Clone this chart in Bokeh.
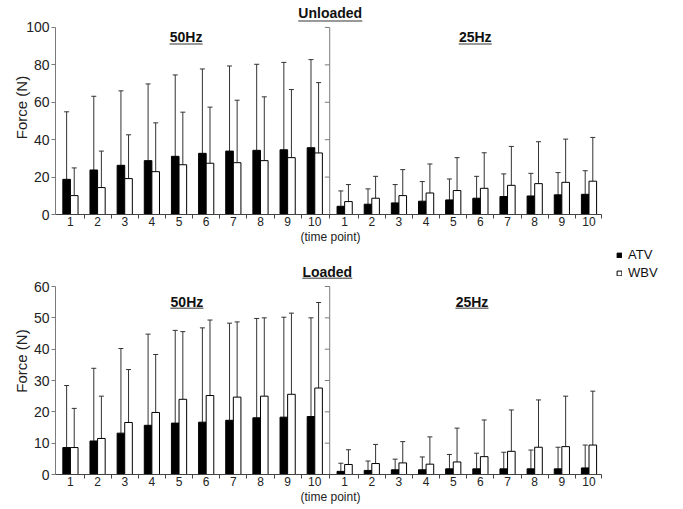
import numpy as np
from bokeh.plotting import figure
from bokeh.models import (ColumnDataSource, Range1d, FixedTicker, CustomJSTickFormatter,
                          Whisker, TeeHead, Legend, LegendItem, Label, Title)
from bokeh.layouts import column
from bokeh.embed import file_html
from bokeh.resources import INLINE

# ---------------- data ----------------
time_points = list(range(1, 11))
groups = ["ATV", "WBV"]

# Unloaded, 50 Hz
unl50_atv = [18.8, 23.8, 26.3, 28.8, 31.1, 32.7, 33.9, 34.3, 34.6, 35.7]
unl50_atv_sd = [36.1, 39.4, 39.8, 41.0, 43.5, 45.1, 45.5, 46.0, 46.7, 47.1]
unl50_wbv = [10.1, 14.4, 19.2, 22.9, 26.6, 27.4, 27.7, 28.8, 30.4, 32.9]
unl50_wbv_sd = [14.8, 19.5, 23.4, 26.1, 28.1, 30.0, 33.4, 34.1, 36.4, 37.6]
# Unloaded, 25 Hz
unl25_atv = [4.4, 5.5, 6.2, 7.1, 7.8, 8.7, 9.6, 9.9, 10.5, 10.8]
unl25_atv_sd = [8.2, 8.2, 9.8, 10.5, 11.2, 11.7, 12.1, 12.1, 11.9, 12.6]
unl25_wbv = [6.9, 8.7, 10.1, 11.5, 12.8, 14.0, 15.6, 16.5, 17.2, 17.8]
unl25_wbv_sd = [9.1, 11.7, 13.9, 15.5, 17.6, 19.0, 20.8, 22.4, 23.1, 23.4]
# Loaded, 50 Hz
load50_atv = [8.6, 10.7, 13.2, 15.7, 16.4, 16.7, 17.3, 18.1, 18.3, 18.5]
load50_atv_sd = [19.8, 23.2, 27.0, 29.1, 29.6, 30.1, 31.0, 31.7, 31.9, 31.5]
load50_wbv = [8.6, 11.5, 16.6, 19.8, 24.0, 25.2, 24.7, 25.0, 25.6, 27.6]
load50_wbv_sd = [12.5, 13.5, 16.9, 18.5, 21.6, 24.1, 24.0, 25.0, 25.9, 27.3]
# Loaded, 25 Hz
load25_atv = [1.0, 1.3, 1.5, 1.5, 1.8, 1.8, 1.8, 1.8, 1.8, 2.1]
load25_atv_sd = [2.6, 3.0, 3.4, 4.1, 4.6, 5.0, 5.3, 6.0, 6.9, 7.3]
load25_wbv = [3.2, 3.5, 3.7, 3.3, 4.0, 5.7, 7.4, 8.7, 8.9, 9.4]
load25_wbv_sd = [4.7, 6.1, 6.8, 8.7, 10.8, 11.7, 13.2, 15.1, 16.1, 17.2]

y_ticks_unloaded = [0, 20, 40, 60, 80, 100]
y_ticks_loaded = [0, 10, 20, 30, 40, 50, 60]

# ---------------- layout constants ----------------
FONT = "Liberation Sans"
AXIS_COL = "#7a7a7a"
XAXIS_COL = "#444444"
ERR_COL = "#333333"
BW = 0.28
GAP = 0.1
X_START, X_END = 0.45, 23.47
DIVIDER = 10.55
AXIS_END = 20.55

left_x = np.array(time_points, dtype=float)
right_x = left_x + 10 + GAP
centers = np.concatenate([left_x, right_x])
boundaries = list(np.arange(1.5, 10, 1.0)) + [DIVIDER] + list(np.arange(11.6, 20, 1.0)) + [AXIS_END]

x_range = Range1d(X_START, X_END)


def panel(height, y_end, y_ticks, atv, atv_sd, wbv, wbv_sd, label_standoff):
    p = figure(width=680, height=height, x_range=x_range, y_range=Range1d(0, y_end),
               output_backend="svg", toolbar_location=None,
               min_border_left=55, min_border_right=0, min_border_top=0,
               min_border_bottom=33)
    p.outline_line_color = None
    p.grid.visible = False
    p.background_fill_color = "white"

    atv_arr = np.array(atv)
    wbv_arr = np.array(wbv)
    src = ColumnDataSource(dict(
        xa=centers - BW / 2, xw=centers + BW / 2,
        atv=atv_arr, wbv=wbv_arr,
        atv_up=atv_arr + np.array(atv_sd), wbv_up=wbv_arr + np.array(wbv_sd),
    ))
    r_atv = p.vbar(x="xa", top="atv", width=BW, source=src,
                   fill_color="black", line_color="black", line_width=1)
    r_wbv = p.vbar(x="xw", top="wbv", width=BW, source=src,
                   fill_color="white", line_color="black", line_width=1)
    for xcol, lo, hi in (("xa", "atv", "atv_up"), ("xw", "wbv", "wbv_up")):
        w = Whisker(base=xcol, lower=lo, upper=hi, source=src, dimension="height",
                    line_color=ERR_COL, line_width=1,
                    lower_head=None,
                    upper_head=TeeHead(size=5, line_color=ERR_COL, line_width=1))
        p.add_layout(w)

    # y axis
    ya = p.yaxis[0]
    ya.ticker = FixedTicker(ticks=y_ticks)
    ya.bounds = (0, y_ticks[-1])
    ya.axis_line_color = AXIS_COL
    ya.major_tick_line_color = AXIS_COL
    ya.major_tick_out = 4
    ya.major_tick_in = 0
    ya.minor_tick_line_color = None
    ya.major_label_standoff = 2
    ya.major_label_text_font = FONT
    ya.major_label_text_font_size = "14px"
    ya.major_label_text_color = "#222222"
    ya.axis_label = "Force (N)"
    ya.axis_label_text_font = FONT
    ya.axis_label_text_font_size = "15px"
    ya.axis_label_text_font_style = "normal"
    ya.axis_label_text_color = "#222222"
    ya.axis_label_standoff = label_standoff

    # x axis
    xa = p.xaxis[0]
    xa.ticker = FixedTicker(ticks=list(centers), minor_ticks=boundaries)
    xa.formatter = CustomJSTickFormatter(code="return String(index % 10 + 1)")
    xa.bounds = (X_START, AXIS_END)
    xa.axis_line_color = XAXIS_COL
    xa.major_tick_out = 0
    xa.major_tick_in = 0
    xa.minor_tick_out = 4
    xa.minor_tick_in = 0
    xa.minor_tick_line_color = XAXIS_COL
    xa.major_label_standoff = -2
    xa.major_label_text_font = FONT
    xa.major_label_text_font_size = "12px"
    xa.major_label_text_color = "#222222"

    # x-axis caption, centred under the axis line (not under the whole frame)
    p.add_layout(Title(text="(time point)", align="left", offset=245, standoff=-2,
                       text_font=FONT, text_font_size="12px", text_font_style="normal",
                       text_color="#222222"), "below")

    # divider axis between the 50Hz and 25Hz halves
    tick_len = 0.18
    p.segment(x0=[DIVIDER], y0=[0], x1=[DIVIDER], y1=[y_ticks[-1]], line_color=AXIS_COL, line_width=1)
    p.segment(x0=[DIVIDER - tick_len] * (len(y_ticks) - 1), y0=y_ticks[1:],
              x1=[DIVIDER] * (len(y_ticks) - 1), y1=y_ticks[1:], line_color=AXIS_COL, line_width=1)
    return p, r_atv, r_wbv


def title(p, text, x, y_base, y_line, half_w):
    p.add_layout(Label(x=x, y=y_base, text=text, text_align="center", text_baseline="alphabetic",
                       text_font=FONT, text_font_size="14px", text_font_style="bold",
                       text_color="#111111"))
    p.segment(x0=[x - half_w], y0=[y_line], x1=[x + half_w], y1=[y_line],
              line_color="#777777", line_width=1.5)


# ---------------- top: Unloaded ----------------
top, _, _ = panel(247, 114.4, y_ticks_unloaded, unl50_atv + unl25_atv, unl50_atv_sd + unl25_atv_sd,
                  unl50_wbv + unl25_wbv, unl50_wbv_sd + unl25_wbv_sd, -7)
title(top, "Unloaded", 10.57, 107.9, 103.5, 1.18)
title(top, "50Hz", 5.26, 94.8, 91.2, 0.61)
title(top, "25Hz", 15.91, 94.8, 91.2, 0.61)

# ---------------- bottom: Loaded ----------------
bot, r_atv, r_wbv = panel(260, 72.45, y_ticks_loaded, load50_atv + load25_atv, load50_atv_sd + load25_atv_sd,
                          load50_wbv + load25_wbv, load50_wbv_sd + load25_wbv_sd, 1)
title(bot, "Loaded", 10.46, 64.6, 62.6, 0.92)
title(bot, "50Hz", 5.29, 55.2, 53.1, 0.61)
title(bot, "25Hz", 15.79, 55.2, 53.1, 0.61)

legend = Legend(items=[LegendItem(label=groups[0], renderers=[r_atv]),
                       LegendItem(label=groups[1], renderers=[r_wbv])],
                location=(561, 193), glyph_width=6, glyph_height=6, label_height=17,
                spacing=1, padding=0, margin=0, border_line_color=None,
                background_fill_alpha=0, label_text_font=FONT, label_text_font_size="13px",
                label_standoff=6, label_text_color="#111111")
bot.add_layout(legend)

layout = column(top, bot, spacing=0)
open("out.html", "w").write(file_html(layout, INLINE))
